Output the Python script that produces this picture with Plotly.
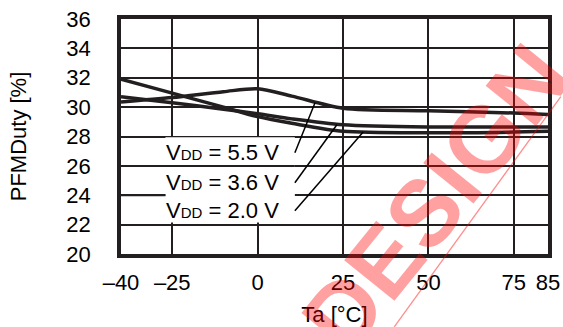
import plotly.graph_objects as go

# data
temps = [-40, -25, -10, 0, 10, 25, 50, 75, 85]
duty_55 = [30.35, 30.65, 31.05, 31.25, 30.75, 29.92, 29.75, 29.6, 29.5]
duty_36 = [30.7, 30.3, 29.85, 29.55, 29.2, 28.8, 28.65, 28.65, 28.65]
duty_20 = [31.9, 30.95, 30.0, 29.35, 28.9, 28.35, 28.25, 28.3, 28.35]

series_names = ["VDD = 5.5 V", "VDD = 3.6 V", "VDD = 2.0 V"]
x_ticks = [-40, -25, 0, 25, 50, 75, 85]
x_tick_text = ["–40", "–25", "0", "25", "50", "75", "85"]
y_ticks = [20, 22, 24, 26, 28, 30, 32, 34, 36]

ink = "#231f20"
font = "Liberation Sans, Arial, sans-serif"

fig = go.Figure()
for name, ys in zip(series_names, [duty_55, duty_36, duty_20]):
    fig.add_trace(go.Scatter(
        x=temps, y=ys, name=name, mode="lines",
        line=dict(color=ink, width=3.5, shape="spline", smoothing=0.8),
        showlegend=False,
    ))

shapes = [
    # white box behind the labels (hides grid lines there)
    dict(type="rect", xref="x", yref="y", x0=-27, x1=10.9, y0=22.15, y1=27.95,
         fillcolor="white", line=dict(width=0), layer="between"),
    dict(type="line", xref="x", yref="y", x0=-40, x1=10.9, y0=26, y1=26,
         line=dict(color=ink, width=2), layer="between"),
    dict(type="line", xref="x", yref="y", x0=-40, x1=-27, y0=24, y1=24,
         line=dict(color=ink, width=2), layer="between"),
    # leader lines
    dict(type="line", xref="x", yref="y", x0=10.9, y0=26.9, x1=16.8, y1=30.3,
         line=dict(color="black", width=1.5)),
    dict(type="line", xref="x", yref="y", x0=10.9, y0=24.85, x1=23.2, y1=28.8,
         line=dict(color="black", width=1.5)),
    dict(type="line", xref="x", yref="y", x0=10.9, y0=22.95, x1=30.9, y1=28.3,
         line=dict(color="black", width=1.5)),
    # watermark stroke
    dict(type="line", xref="paper", yref="paper", x0=1.03, y0=0.67, x1=0.64, y1=-0.31,
         line=dict(color="rgba(255,0,0,0.45)", width=1.3)),
]

annotations = []
label_y = [26.88, 24.85, 22.93]
for name, ly in zip(series_names, label_y):
    v, rest = name.split("DD")
    annotations.append(dict(
        x=-10.3, y=ly, xref="x", yref="y", showarrow=False,
        text=v + "<span style='font-size:15px'>DD</span>" + rest,
        font=dict(family=font, size=22, color="black"),
    ))

# watermark (cut by the page edge, as in the source)
annotations.append(dict(
    x=0.737, y=0.236, xref="paper", yref="paper", showarrow=False,
    xanchor="center", yanchor="middle",
    text="<b>DESIGN</b>", textangle=-51,
    font=dict(family="Liberation Sans, Arial", size=94, color="rgba(255,0,0,0.37)"),
))

fig.update_layout(
    width=563, height=327,
    margin=dict(l=121, r=15, t=19, b=73),
    paper_bgcolor="white", plot_bgcolor="white",
    font=dict(family=font, size=22, color="black"),
    shapes=shapes, annotations=annotations,
    xaxis=dict(
        range=[-40, 85], tickvals=x_ticks, ticktext=x_tick_text,
        showgrid=True, gridcolor=ink, gridwidth=2,
        showline=True, linecolor=ink, linewidth=3.5, mirror=True,
        zeroline=False, ticks="", ticklabelstandoff=6, automargin=False,
        ticklabeloverflow="allow",
        title=dict(text="Ta [°C]", standoff=14, font=dict(size=22)),
    ),
    yaxis=dict(
        range=[20, 36], tickvals=y_ticks,
        showgrid=True, gridcolor=ink, gridwidth=2,
        showline=True, linecolor=ink, linewidth=3.5, mirror=True,
        zeroline=False, ticks="", ticklabelstandoff=22, automargin=False,
        ticklabeloverflow="allow",
        title=dict(text="PFMDuty [%]", standoff=35, font=dict(size=22)),
    ),
)

# drop the default page margin so the figure fills the window exactly
fig.write_html("out.html", config={"displayModeBar": False},
               post_script="document.body.style.margin='0';")
